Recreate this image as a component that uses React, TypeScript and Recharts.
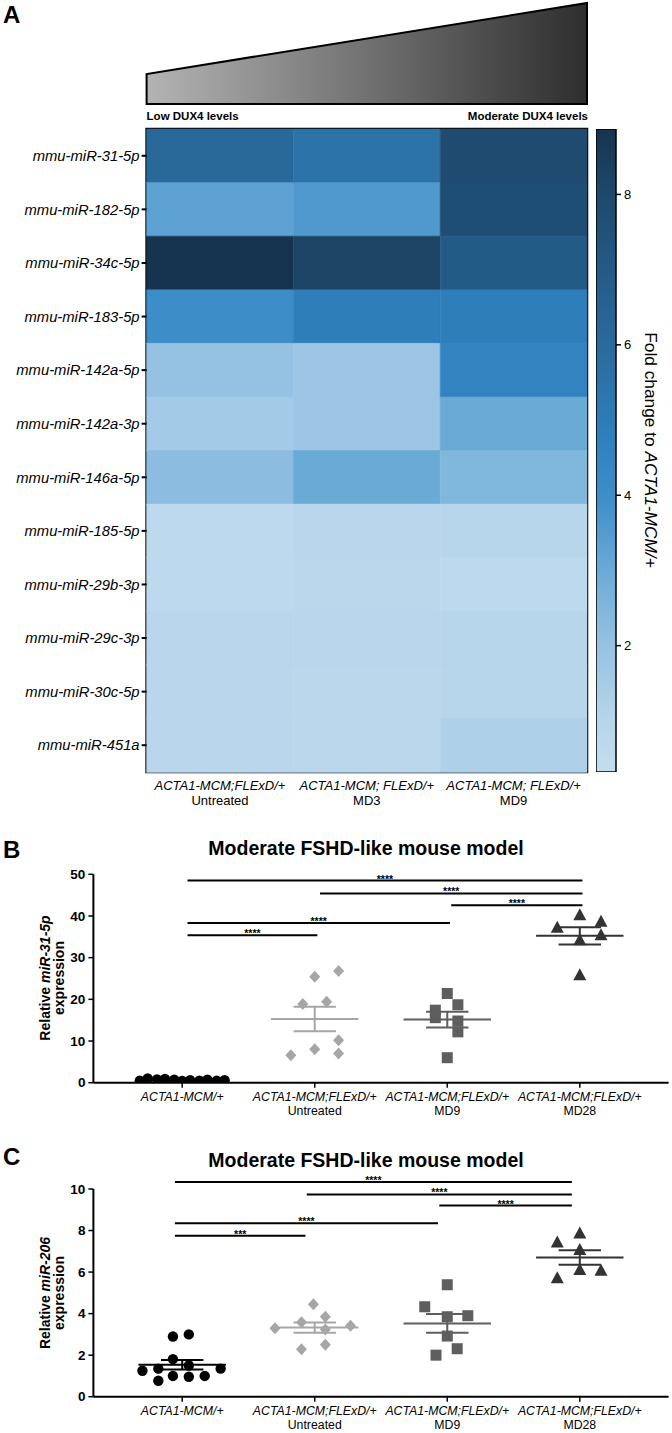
import React from 'react';
import {
  BarChart, Bar, XAxis, YAxis, Cell, ReferenceArea,
  ScatterChart, Scatter, ReferenceLine,
} from 'recharts';

const FONT = '"Liberation Sans", Arial, Helvetica, sans-serif';

// ---------------- Panel A: heatmap data ----------------
const mirnas = [
  'mmu-miR-31-5p', 'mmu-miR-182-5p', 'mmu-miR-34c-5p', 'mmu-miR-183-5p',
  'mmu-miR-142a-5p', 'mmu-miR-142a-3p', 'mmu-miR-146a-5p', 'mmu-miR-185-5p',
  'mmu-miR-29b-3p', 'mmu-miR-29c-3p', 'mmu-miR-30c-5p', 'mmu-miR-451a',
];
const heatColLine1 = ['ACTA1-MCM;FLExD/+', 'ACTA1-MCM; FLExD/+', 'ACTA1-MCM; FLExD/+'];
const heatColLine2 = ['Untreated', 'MD3', 'MD9'];
const foldUntreated = [6.1, 3.3, 8.85, 4.0, 2.0, 1.6, 2.2, 0.7, 0.7, 0.9, 0.9, 0.9];
const foldMD3 = [5.5, 3.6, 8.2, 4.9, 1.8, 1.8, 3.0, 0.9, 0.85, 0.9, 0.85, 0.85];
const foldMD9 = [7.9, 7.7, 7.0, 4.9, 4.6, 3.0, 2.5, 1.0, 0.65, 1.0, 0.95, 1.25];
const CB_MIN = 0.32;
const CB_MAX = 8.87;
const cbTicks = [2, 4, 6, 8];
const scaleValues = [0.32, 1, 2, 3, 4, 4.8, 6, 7, 8, 8.87];
const scaleColors = ['#c3ddef', '#b7d5eb', '#95c2e2', '#6aabd6', '#3d8dc8', '#2e80bd', '#2a6a9c', '#235b87', '#1d496c', '#16344f'];

// ---------------- Panel B: miR-31-5p ----------------
const groupLine1 = ['ACTA1-MCM/+', 'ACTA1-MCM;FLExD/+', 'ACTA1-MCM;FLExD/+', 'ACTA1-MCM;FLExD/+'];
const groupLine2 = ['', 'Untreated', 'MD9', 'MD28'];

const b31Ctrl = [0.5, 1.0, 0.8, 0.9, 0.7, 0.4, 0.6, 0.5, 0.7, 0.5, 0.6];
const b31CtrlX = [-0.32, -0.26, -0.19, -0.13, -0.06, 0, 0.06, 0.13, 0.19, 0.26, 0.32];
const b31Untr = [25.4, 26.8, 18.9, 19.4, 6.6, 8.0, 10.2, 7.0];
const b31UntrX = [0, 0.18, -0.09, 0.09, -0.18, 0, 0.18, 0.18];
const b31MD9 = [21.4, 18.7, 17.4, 15.6, 14.8, 12.2, 6.0];
const b31MD9X = [0, 0.08, -0.09, -0.09, 0.08, 0.08, 0];
const b31MD28 = [40.2, 37.2, 38.6, 35.4, 34.2, 25.8];
const b31MD28X = [0, -0.17, 0.16, 0.16, 0, 0];
const bYTicks = [0, 10, 20, 30, 40, 50];
const bSigFrom = [0.04, 1.04, 2.03, 0.04, 0.04];
const bSigTo = [3.02, 3.02, 3.02, 2.02, 1.02];
const bSigY = [48.5, 45.4, 42.6, 38.3, 35.4];
const bSigLabel = ['****', '****', '****', '****', '****'];

// ---------------- Panel C: miR-206 ----------------
const c206Ctrl = [2.9, 3.0, 1.81, 1.5, 1.25, 1.35, 1.35, 1.0, 0.96, 1.0, 0.77];
const c206CtrlX = [-0.07, 0.05, -0.07, 0.05, -0.3, -0.18, 0.29, -0.07, 0.05, 0.17, -0.18];
const c206Untr = [4.45, 3.58, 3.85, 3.29, 3.42, 3.24, 2.28, 2.5];
const c206UntrX = [-0.01, -0.1, 0.08, -0.3, 0.27, 0.08, -0.1, 0.08];
const c206MD9 = [5.39, 4.33, 3.85, 3.9, 2.92, 2.31, 2.0];
const c206MD9X = [0, -0.17, 0, 0.155, 0, 0.075, -0.085];
const c206MD28 = [7.86, 7.42, 7.06, 6.1, 6.07, 5.7];
const c206MD28X = [0, -0.17, 0, 0, 0.16, -0.17];
const cYTicks = [0, 2, 4, 6, 8, 10];
const cSigFrom = [-0.055, 0.94, 1.94, -0.055, -0.055];
const cSigTo = [2.94, 2.94, 2.94, 1.93, 0.93];
const cSigY = [10.34, 9.74, 9.2, 8.35, 7.75];
const cSigLabel = ['****', '****', '****', '****', '***'];

const groupColors = ['#000000', '#a6a6a6', '#5e5e5e', '#333333'];

// ---------------- helpers ----------------
function hexToRgb(h: string) {
  const n = parseInt(h.slice(1), 16);
  return [(n >> 16) & 255, (n >> 8) & 255, n & 255];
}
function colorFor(v: number) {
  if (v <= scaleValues[0]) return scaleColors[0];
  for (let i = 1; i < scaleValues.length; i++) {
    if (v <= scaleValues[i]) {
      const t = (v - scaleValues[i - 1]) / (scaleValues[i] - scaleValues[i - 1]);
      const a = hexToRgb(scaleColors[i - 1]);
      const b = hexToRgb(scaleColors[i]);
      const c = a.map((x, k) => Math.round(x + (b[k] - x) * t));
      return `rgb(${c[0]},${c[1]},${c[2]})`;
    }
  }
  return scaleColors[scaleColors.length - 1];
}

const heatCols = [foldUntreated, foldMD3, foldMD9];
const heatRows = mirnas.map((m) => ({ name: m, c0: 1, c1: 1, c2: 1 }));

function toPoints(vals: number[], offs: number[], g: number) {
  return vals.map((v, i) => ({ x: g + offs[i], y: v }));
}
function stats(vals: number[]) {
  const n = vals.length;
  const mean = vals.reduce((s, v) => s + v, 0) / n;
  const sd = Math.sqrt(vals.reduce((s, v) => s + (v - mean) * (v - mean), 0) / (n - 1));
  return { mean, sem: sd / Math.sqrt(n) };
}

const HeatTick = (props: any) => {
  const { x, y, payload } = props;
  const idx = Math.floor(payload.value);
  return (
    <g>
      <text x={x} y={y + 18} textAnchor="middle" fontSize={13} fontStyle="italic" fill="#000">{heatColLine1[idx]}</text>
      <text x={x} y={y + 33} textAnchor="middle" fontSize={13} fill="#000">{heatColLine2[idx]}</text>
    </g>
  );
};

const GroupTick = (props: any) => {
  const { x, y, payload } = props;
  const idx = Math.round(payload.value);
  return (
    <g>
      <text x={x} y={y + 13} textAnchor="middle" fontSize={12.3} fontStyle="italic" fill="#000">{groupLine1[idx]}</text>
      <text x={x} y={y + 27} textAnchor="middle" fontSize={12.3} fill="#000">{groupLine2[idx]}</text>
    </g>
  );
};

const circleShape = (p: any) => <circle cx={p.cx} cy={p.cy} r={5.2} fill={groupColors[0]} />;
const diamondShape = (p: any) => (
  <polygon points={`${p.cx},${p.cy - 6} ${p.cx + 5.5},${p.cy} ${p.cx},${p.cy + 6} ${p.cx - 5.5},${p.cy}`} fill={groupColors[1]} />
);
const squareShape = (p: any) => <rect x={p.cx - 5.5} y={p.cy - 5.5} width={11} height={11} fill={groupColors[2]} />;
const triangleShape = (p: any) => (
  <polygon points={`${p.cx},${p.cy - 7} ${p.cx + 6.5},${p.cy + 5} ${p.cx - 6.5},${p.cy + 5}`} fill={groupColors[3]} />
);
const shapes = [circleShape, diamondShape, squareShape, triangleShape];

function DotPlot(props: {
  groups: { vals: number[]; offs: number[] }[];
  yMax: number; yTicks: number[];
  sigFrom: number[]; sigTo: number[]; sigY: number[]; sigLabel: string[];
  width: number; height: number; margin: any; xHeight: number;
}) {
  const { groups, yMax, yTicks, sigFrom, sigTo, sigY, sigLabel } = props;
  return (
    <ScatterChart width={props.width} height={props.height} margin={props.margin}>
      <XAxis
        type="number" dataKey="x" domain={[-0.67, 3.67]} ticks={[0, 1, 2, 3]}
        allowDataOverflow height={props.xHeight} tickSize={5} tickMargin={0}
        axisLine={{ stroke: '#000', strokeWidth: 2 }} tickLine={{ stroke: '#000', strokeWidth: 1.5 }}
        tick={<GroupTick />} interval={0}
      />
      <YAxis
        type="number" dataKey="y" domain={[0, yMax]} ticks={yTicks} width={93.4}
        allowDataOverflow tickSize={5} tickMargin={3}
        axisLine={{ stroke: '#000', strokeWidth: 2 }} tickLine={{ stroke: '#000', strokeWidth: 1.5 }}
        tick={{ fontSize: 13.5, fontWeight: 'bold', fill: '#000' }}
      />
      {groups.map((g, gi) => (
        <Scatter key={gi} data={toPoints(g.vals, g.offs, gi)} shape={shapes[gi]} isAnimationActive={false} />
      ))}
      {groups.map((g, gi) => {
        const s = stats(g.vals);
        const c = groupColors[gi];
        return (
          <React.Fragment key={'st' + gi}>
            <ReferenceLine segment={[{ x: gi - 0.33, y: s.mean }, { x: gi + 0.33, y: s.mean }]} stroke={c} strokeWidth={2} ifOverflow="visible" />
            <ReferenceLine segment={[{ x: gi - 0.16, y: s.mean + s.sem }, { x: gi + 0.16, y: s.mean + s.sem }]} stroke={c} strokeWidth={2} ifOverflow="visible" />
            <ReferenceLine segment={[{ x: gi - 0.16, y: s.mean - s.sem }, { x: gi + 0.16, y: s.mean - s.sem }]} stroke={c} strokeWidth={2} ifOverflow="visible" />
            <ReferenceLine segment={[{ x: gi, y: s.mean - s.sem }, { x: gi, y: s.mean + s.sem }]} stroke={c} strokeWidth={2} ifOverflow="visible" />
          </React.Fragment>
        );
      })}
      {sigY.map((y, i) => (
        <ReferenceLine
          key={'sig' + i}
          segment={[{ x: sigFrom[i], y }, { x: sigTo[i], y }]}
          stroke="#000" strokeWidth={2} ifOverflow="visible"
          label={(lp: any) => {
            const vb = lp.viewBox || {};
            return (
              <text x={vb.x + vb.width / 2} y={vb.y + 2} textAnchor="middle" fontSize={10.5} fontWeight="bold" fill="#000">{sigLabel[i]}</text>
            );
          }}
        />
      ))}
    </ScatterChart>
  );
}

export default function App() {
  const cbStops = scaleValues.slice().reverse().map((v, i) => ({
    off: (CB_MAX - v) / (CB_MAX - CB_MIN),
    col: scaleColors[scaleColors.length - 1 - i],
  }));
  return (
    <div style={{ position: 'absolute', left: 0, top: 0, width: 672, height: 1433, background: '#fff', fontFamily: FONT, overflow: 'hidden' }}>
      {/* Heatmap */}
      <div style={{ position: 'absolute', left: 0, top: 0 }}>
        <BarChart width={672} height={830} data={heatRows} layout="vertical"
          margin={{ top: 129, right: 85, bottom: 0, left: 0 }} barCategoryGap={0} barGap={0}>
          <XAxis type="number" domain={[0, 3]} ticks={[0.5, 1.5, 2.5]} height={58}
            tickSize={0} tickMargin={0} axisLine={false} tickLine={false} tick={<HeatTick />} interval={0} />
          <YAxis type="category" dataKey="name" width={146.6} tickSize={5} tickMargin={2}
            axisLine={false} tickLine={{ stroke: '#000', strokeWidth: 2 }}
            tick={{ fontSize: 14.8, fontStyle: 'italic', fill: '#000' }} interval={0} />
          {heatCols.map((vals, j) => (
            <Bar key={j} dataKey={'c' + j} stackId="h" isAnimationActive={false}>
              {vals.map((v, i) => (
                <Cell key={i} fill={colorFor(v)} stroke={colorFor(v)} strokeWidth={0.5} />
              ))}
            </Bar>
          ))}
          <ReferenceArea x1={0} x2={3} fill="none" fillOpacity={0} stroke="#000" strokeWidth={2.5} ifOverflow="visible" />
        </BarChart>
      </div>
      {/* Colorbar */}
      <div style={{ position: 'absolute', left: 596, top: 0 }}>
        <BarChart width={76} height={830} data={[{ name: 'cb', range: [CB_MIN, CB_MAX] }]}
          margin={{ top: 129, right: 26, bottom: 58, left: 0 }} barCategoryGap={0} barGap={0}>
          <defs>
            <linearGradient id="cbGrad" x1="0" y1="0" x2="0" y2="1">
              {cbStops.map((s, i) => (
                <stop key={i} offset={s.off} stopColor={s.col} />
              ))}
            </linearGradient>
          </defs>
          <XAxis dataKey="name" hide />
          <YAxis orientation="right" type="number" domain={[CB_MIN, CB_MAX]} ticks={cbTicks} width={30}
            allowDataOverflow axisLine={false} tickSize={5} tickMargin={3}
            tickLine={{ stroke: '#000', strokeWidth: 1.5 }} tick={{ fontSize: 13, fill: '#000' }} />
          <YAxis yAxisId="inner" orientation="left" mirror type="number" domain={[CB_MIN, CB_MAX]} ticks={cbTicks} width={0}
            allowDataOverflow axisLine={false} tickSize={3} tick={false}
            tickLine={{ stroke: '#000', strokeWidth: 1.5 }} />
          <Bar dataKey="range" fill="url(#cbGrad)" stroke="#000" strokeWidth={1.5} isAnimationActive={false} />
        </BarChart>
      </div>
      {/* Panel B */}
      <div style={{ position: 'absolute', left: 0, top: 860 }}>
        <DotPlot
          groups={[
            { vals: b31Ctrl, offs: b31CtrlX }, { vals: b31Untr, offs: b31UntrX },
            { vals: b31MD9, offs: b31MD9X }, { vals: b31MD28, offs: b31MD28X },
          ]}
          yMax={50} yTicks={bYTicks}
          sigFrom={bSigFrom} sigTo={bSigTo} sigY={bSigY} sigLabel={bSigLabel}
          width={672} height={270} margin={{ top: 14.3, right: 3.4, bottom: 7.3, left: 0 }} xHeight={40}
        />
      </div>
      {/* Panel C */}
      <div style={{ position: 'absolute', left: 0, top: 1175 }}>
        <DotPlot
          groups={[
            { vals: c206Ctrl, offs: c206CtrlX }, { vals: c206Untr, offs: c206UntrX },
            { vals: c206MD9, offs: c206MD9X }, { vals: c206MD28, offs: c206MD28X },
          ]}
          yMax={10} yTicks={cYTicks}
          sigFrom={cSigFrom} sigTo={cSigTo} sigY={cSigY} sigLabel={cSigLabel}
          width={672} height={258} margin={{ top: 14, right: 3.4, bottom: 0.3, left: 0 }} xHeight={36}
        />
      </div>
      {/* Annotations */}
      <svg width={672} height={1433} style={{ position: 'absolute', left: 0, top: 0, pointerEvents: 'none' }}>
        <defs>
          <linearGradient id="triGrad" x1="0" y1="0" x2="1" y2="0">
            <stop offset="0" stopColor="#b4b4b4" />
            <stop offset="1" stopColor="#2e2e2e" />
          </linearGradient>
        </defs>
        <text x={3} y={23} fontSize={24} fontWeight="bold" fill="#000">A</text>
        <polygon points="146.6,104 146.6,74 587,3 587,104" fill="url(#triGrad)" stroke="#000" strokeWidth={2} />
        <text x={146.6} y={120} fontSize={11.5} fontWeight="bold" fill="#000">Low DUX4 levels</text>
        <text x={588} y={120} fontSize={11.5} fontWeight="bold" fill="#000" textAnchor="end">Moderate DUX4 levels</text>
        <text transform="translate(651,450) rotate(90)" textAnchor="middle" fontSize={17.3} fill="#000" dominantBaseline="central">
          <tspan>Fold change to </tspan><tspan fontStyle="italic">ACTA1-MCM/+</tspan>
        </text>

        <text x={3} y={858} fontSize={24} fontWeight="bold" fill="#000">B</text>
        <text x={366} y={855} fontSize={19.5} fontWeight="bold" fill="#000" textAnchor="middle">Moderate FSHD-like mouse model</text>
        <text transform="translate(50,978) rotate(-90)" textAnchor="middle" fontSize={14} fontWeight="bold" fill="#000">
          <tspan>Relative </tspan><tspan fontStyle="italic">miR-31-5p</tspan>
        </text>
        <text transform="translate(64,978) rotate(-90)" textAnchor="middle" fontSize={14} fontWeight="bold" fill="#000">expression</text>

        <text x={3} y={1165} fontSize={24} fontWeight="bold" fill="#000">C</text>
        <text x={366} y={1167} fontSize={19.5} fontWeight="bold" fill="#000" textAnchor="middle">Moderate FSHD-like mouse model</text>
        <text transform="translate(50,1293) rotate(-90)" textAnchor="middle" fontSize={14} fontWeight="bold" fill="#000">
          <tspan>Relative </tspan><tspan fontStyle="italic">miR-206</tspan>
        </text>
        <text transform="translate(64,1293) rotate(-90)" textAnchor="middle" fontSize={14} fontWeight="bold" fill="#000">expression</text>
      </svg>
    </div>
  );
}
